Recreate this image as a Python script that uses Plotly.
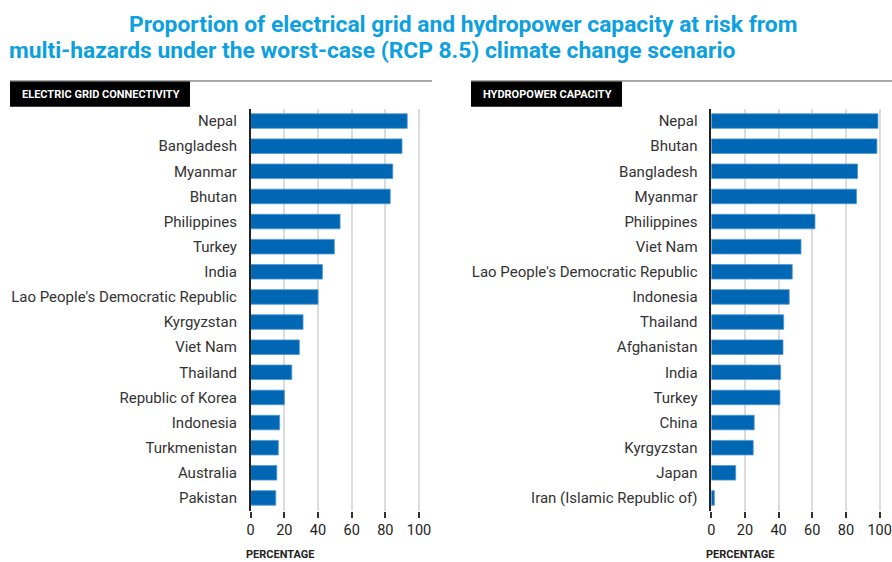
import plotly.graph_objects as go

W, H = 892, 562

grid_countries = ["Nepal", "Bangladesh", "Myanmar", "Bhutan", "Philippines", "Turkey", "India",
                  "Lao People's Democratic Republic", "Kyrgyzstan", "Viet Nam", "Thailand",
                  "Republic of Korea", "Indonesia", "Turkmenistan", "Australia", "Pakistan"]
grid_values = [93.0, 89.9, 84.4, 82.9, 53.1, 49.7, 42.6, 40.0, 31.1, 28.9, 24.4, 20.0, 17.2, 16.4, 15.5, 14.9]

hydro_countries = ["Nepal", "Bhutan", "Bangladesh", "Myanmar", "Philippines", "Viet Nam",
                   "Lao People's Democratic Republic", "Indonesia", "Thailand", "Afghanistan",
                   "India", "Turkey", "China", "Kyrgyzstan", "Japan", "Iran (Islamic Republic of)"]
hydro_values = [99.0, 98.4, 86.9, 86.3, 61.6, 53.3, 48.1, 46.3, 43.0, 42.6, 41.2, 40.8, 25.5, 24.9, 14.5, 1.8]

x_ticks = [0, 20, 40, 60, 80, 100]

title_line1 = "Proportion of electrical grid and hydropower capacity at risk from"
title_line2 = "multi-hazards under the worst-case (RCP 8.5) climate change scenario"
panel_titles = ["ELECTRIC GRID CONNECTIVITY", "HYDROPOWER CAPACITY"]
axis_title = "PERCENTAGE"


def xp(px):
    return px / W


def yp(py):
    return 1 - py / H


BAR = "#0067b4"
EDGE = "#4f97d3"
FONT = "Roboto, 'Noto Sans', sans-serif"

fig = go.Figure()
fig.add_trace(go.Bar(x=grid_values, y=grid_countries, orientation="h", xaxis="x", yaxis="y",
                     marker=dict(color=BAR, line=dict(color=EDGE, width=0.8)), hoverinfo="x+y"))
fig.add_trace(go.Bar(x=hydro_values, y=hydro_countries, orientation="h", xaxis="x2", yaxis="y2",
                     marker=dict(color=BAR, line=dict(color=EDGE, width=0.8)), hoverinfo="x+y"))

ytop, ybot = yp(108.5), yp(510.5)
scale = 1.683

common_x = dict(range=[0, 101], tickvals=x_ticks, ticks="outside", ticklen=6, tickwidth=1.5,
                tickcolor="#333", showgrid=True, gridcolor="#dcdcdc", gridwidth=1.5,
                zeroline=False, showline=False, fixedrange=True, automargin=False,
                tickfont=dict(family=FONT, size=14.5, color="#222"))
common_y = dict(autorange="reversed", showline=True, linecolor="#222", linewidth=1.5,
                ticks="", showgrid=False, zeroline=False, fixedrange=True, automargin=False,
                tickfont=dict(family=FONT, size=15, color="#333"), ticklabelstandoff=9,
                domain=[ybot, ytop])

x1l = 250.7
x2l = 711.3
fig.update_layout(
    width=W, height=H,
    margin=dict(l=0, r=0, t=0, b=0, pad=0),
    paper_bgcolor="white", plot_bgcolor="white",
    showlegend=False, bargap=0.42,
    xaxis=dict(common_x, domain=[xp(x1l), xp(x1l + 101 * scale)], anchor="y"),
    yaxis=dict(common_y, anchor="x"),
    xaxis2=dict(common_x, domain=[xp(x2l), xp(x2l + 101 * scale)], anchor="y2"),
    yaxis2=dict(common_y, anchor="x2"),
)

shapes = []
annotations = []
# panel header lines and boxes
for (lx, rx, bx) in [(10, 432, 190), (471, 892, 622)]:
    shapes.append(dict(type="line", xref="paper", yref="paper", x0=xp(lx), x1=xp(rx),
                       y0=yp(81), y1=yp(81), line=dict(color="#8a8a8a", width=1.5)))
    shapes.append(dict(type="rect", xref="paper", yref="paper", x0=xp(lx), x1=xp(bx),
                       y0=yp(106.7), y1=yp(81.5), fillcolor="black", line=dict(width=0)))

for txt, lx in zip(panel_titles, [20, 481]):
    annotations.append(dict(text="<b>" + txt + "</b>", xref="paper", yref="paper",
                            x=xp(lx), y=yp(94.5), xanchor="left", yanchor="middle",
                            showarrow=False,
                            font=dict(family=FONT, size=11, color="white")))

for lx in [245, 705]:
    annotations.append(dict(text="<b>" + axis_title + "</b>", xref="paper", yref="paper",
                            x=xp(lx), y=yp(562), xanchor="left", yanchor="bottom",
                            showarrow=False, borderpad=0,
                            font=dict(family=FONT, size=11, color="#222")))

# titles
TFONT = "'Liberation Sans Narrow', 'Roboto', sans-serif"
annotations.append(dict(text="<b>" + title_line1 + "</b>", xref="paper", yref="paper",
                        x=xp(127), y=yp(24.5), xanchor="left", yanchor="middle", showarrow=False,
                        font=dict(family=TFONT, size=22.8, color="#0ca0e0")))
annotations.append(dict(text="<b>" + title_line2 + "</b>", xref="paper", yref="paper",
                        x=xp(7), y=yp(50.5), xanchor="left", yanchor="middle", showarrow=False,
                        font=dict(family=TFONT, size=22.8, color="#0ca0e0")))

fig.update_layout(shapes=shapes, annotations=annotations)
fig.write_html("out.html",
               config={"displayModeBar": False},
               post_script="document.documentElement.style.overflow='hidden';"
                           "document.body.style.margin='0';"
                           "document.body.style.padding='0';")
